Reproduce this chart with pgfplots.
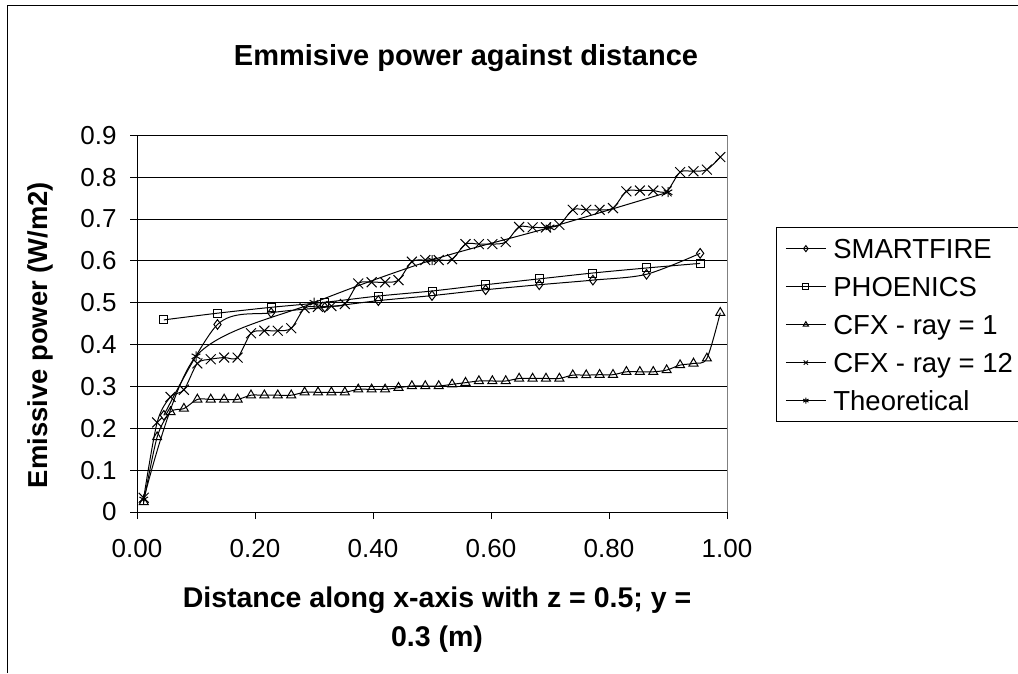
\documentclass[border=0pt]{standalone}
\usepackage{fontspec}
\setmainfont{Liberation Sans}
\usepackage{pgfplots}
\pgfplotsset{compat=1.18}
\usetikzlibrary{plotmarks}
\begin{document}
\begin{tikzpicture}[x=1pt,y=1pt]
\useasboundingbox (0,0) rectangle (1018,673);
\draw[line width=1pt] (7,0) -- (7,667) -- (1018,667);
\node[font=\fontsize{29}{34}\selectfont\bfseries] at (466,615) {Emmisive power against distance};
\node[font=\fontsize{28.5}{39}\selectfont\bfseries, align=center] at (437,53) {Distance along x-axis with z = 0.5; y =\\0.3 (m)};
\node[font=\fontsize{27.4}{30}\selectfont\bfseries, rotate=90] at (40,338) {Emissive power (W/m2)};
\begin{axis}[
  at={(137pt,161pt)}, anchor=south west,
  scale only axis, width=590pt, height=376.7pt,
  xmin=0, xmax=1, ymin=0, ymax=0.9,
  axis x line=bottom, axis y line=left, axis line style={-, line width=1pt, black},
  xtick={0,0.2,0.4,0.6,0.8,1},
  xticklabels={0.00,0.20,0.40,0.60,0.80,1.00},
  ytick={0,0.1,0.2,0.3,0.4,0.5,0.6,0.7,0.8,0.9},
  yticklabels={0,0.1,0.2,0.3,0.4,0.5,0.6,0.7,0.8,0.9},
  tick align=outside, major tick length=7pt,
  tick style={black, line width=1pt},
  ticklabel style={font=\fontsize{26}{30}\selectfont},
  xticklabel style={yshift=-17pt},
  yticklabel style={xshift=-10pt},
  ymajorgrids, grid style={black, line width=0.9pt},
  clip=false,
  legend style={at={(1.083,0.756)}, anchor=north west, draw=black, line width=0.8pt,
    font=\fontsize{27.5}{30}\selectfont, inner xsep=9pt, inner ysep=11pt,
    row sep=18pt, column sep=7pt,
    nodes={inner sep=0pt, text height=20pt, text depth=0pt}},
  legend cell align=left,
  legend image code/.code={\draw[mark repeat=2,mark phase=2,#1,mark size=3pt] plot coordinates {(0pt,0pt)(20pt,0pt)(40pt,0pt)};},
  every axis plot/.append style={black, line width=1pt, smooth, tension=0.5, mark options={fill=white, solid}},
]
\addplot[mark=diamond, mark size=4.8pt] coordinates {
(0.0455,0.231)(0.1364,0.448)(0.2273,0.476)(0.3182,0.489)(0.4091,0.505)(0.5,0.517)
(0.5909,0.531)(0.6818,0.543)(0.7727,0.554)(0.8636,0.568)(0.9545,0.618)};
\addlegendentry{SMARTFIRE}
\addplot[mark=square, mark size=4pt] coordinates {
(0.0455,0.459)(0.1364,0.475)(0.2273,0.489)(0.3182,0.501)(0.4091,0.516)(0.5,0.528)
(0.5909,0.543)(0.6818,0.557)(0.7727,0.571)(0.8636,0.583)(0.9545,0.594)};
\addlegendentry{PHOENICS}
\addplot[mark=triangle, mark size=5.2pt] coordinates {
(0.0114,0.024)(0.0341,0.179)(0.0568,0.239)(0.0795,0.247)(0.1023,0.269)(0.1250,0.269)
(0.1477,0.269)(0.1705,0.269)(0.1932,0.279)(0.2159,0.279)(0.2386,0.279)(0.2614,0.279)
(0.2841,0.286)(0.3068,0.286)(0.3295,0.286)(0.3523,0.286)(0.3750,0.293)(0.3977,0.293)
(0.4205,0.293)(0.4432,0.297)(0.4659,0.301)(0.4886,0.301)(0.5114,0.301)(0.5341,0.305)
(0.5568,0.309)(0.5795,0.313)(0.6023,0.313)(0.6250,0.313)(0.6477,0.319)(0.6705,0.319)
(0.6932,0.319)(0.7159,0.319)(0.7386,0.327)(0.7614,0.327)(0.7841,0.328)(0.8068,0.328)
(0.8295,0.335)(0.8523,0.335)(0.8750,0.335)(0.8977,0.339)(0.9205,0.351)(0.9432,0.355)
(0.9659,0.367)(0.9886,0.476)};
\addlegendentry{CFX - ray = 1}
\addplot[mark=x, mark size=7pt] coordinates {
(0.0114,0.034)(0.0341,0.214)(0.0568,0.275)(0.0795,0.292)(0.1023,0.355)(0.1250,0.365)
(0.1477,0.369)(0.1705,0.369)(0.1932,0.427)(0.2159,0.433)(0.2386,0.433)(0.2614,0.439)
(0.2841,0.487)(0.3068,0.490)(0.3295,0.492)(0.3523,0.497)(0.3750,0.546)(0.3977,0.549)
(0.4205,0.549)(0.4432,0.554)(0.4659,0.598)(0.4886,0.602)(0.5114,0.602)(0.5341,0.604)
(0.5568,0.640)(0.5795,0.640)(0.6023,0.640)(0.6250,0.645)(0.6477,0.681)(0.6705,0.680)
(0.6932,0.680)(0.7159,0.686)(0.7386,0.722)(0.7614,0.722)(0.7841,0.722)(0.8068,0.726)
(0.8295,0.766)(0.8523,0.768)(0.8750,0.768)(0.8977,0.766)(0.9205,0.812)(0.9432,0.814)
(0.9659,0.818)(0.9886,0.848)};
\addlegendentry{CFX - ray = 12}
\addplot[mark=asterisk, mark size=5pt] coordinates {
(0.0114,0.030)(0.1,0.372)(0.3,0.500)(0.5,0.602)(0.7,0.680)(0.9,0.764)};
\addlegendentry{Theoretical}
\draw[gray, line width=1pt] (rel axis cs:1,0) -- (rel axis cs:1,1);
\end{axis}
\end{tikzpicture}
\end{document}
